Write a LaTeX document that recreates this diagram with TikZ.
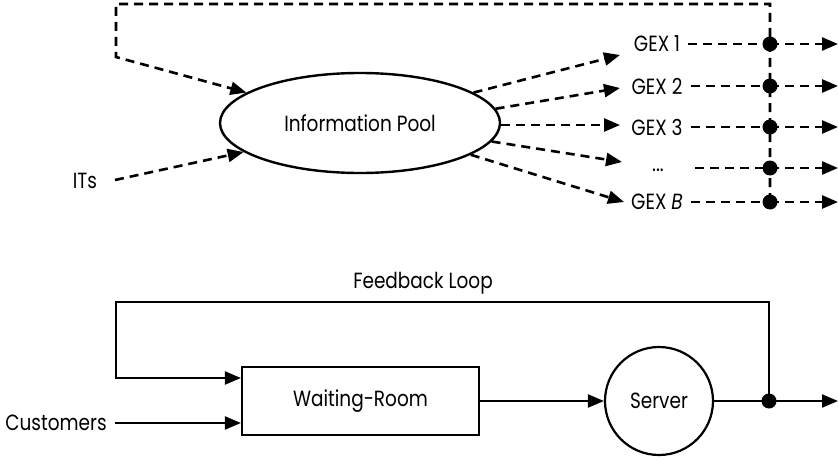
\documentclass[tikz,border=0pt]{standalone}
\usepackage{fontspec}
\setmainfont[FakeStretch=0.84]{Poppins}
\usetikzlibrary{arrows.meta,shapes.geometric}
\begin{document}
\begin{tikzpicture}[x=1pt,y=-1pt,
  lbl/.style={font=\fontsize{22}{26}\selectfont, inner sep=0pt},
  dsh/.style={line width=2.6pt, dash pattern=on 9pt off 6pt},
  sol/.style={line width=2.2pt},
  tip/.style={-{Triangle[length=16pt,width=13pt]}},
  dotn/.style={circle, fill, inner sep=0pt, minimum size=15pt}]
\useasboundingbox (0,0) rectangle (838,460);
% ---------- top part ----------
\node[ellipse, draw, line width=2.4pt, minimum width=280pt, minimum height=100pt, inner sep=0pt, lbl] (pool) at (360,123) {Information Pool};
\node[lbl] (its) at (85,181) {ITs};
\node[lbl] (g1) at (657,44) {GEX 1};
\node[lbl] (g2) at (657,86) {GEX 2};
\node[lbl] (g3) at (657,127) {GEX 3};
\node[lbl] (g4) at (658,170) {...};
\node[lbl] (g5) at (657,202) {GEX \textit{B}};
\coordinate (is) at (115,180);
\coordinate (t1) at (620,55);
\coordinate (t2) at (620,88);
\coordinate (t3) at (620,125);
\coordinate (t4) at (622,162);
\coordinate (t5) at (624,202);
\coordinate (s4) at (695,168);
\foreach \i/\y in {1/44,2/86,3/127,4/168,5/202} {
  \coordinate (j\i) at (770,\y);
  \coordinate (e\i) at (838,\y);
}
\coordinate (tr) at (770,4);
\coordinate (tl) at (116,4);
\coordinate (lb) at (116,57);
\draw[dsh,tip] (pool.15) -- (t1);
\draw[dsh,tip] (pool.6) -- (t2);
\draw[dsh,tip] (pool.east |- t3) -- (t3);
\draw[dsh,tip] (pool.352) -- (t4);
\draw[dsh,tip] (pool.344) -- (t5);
\draw[dsh,tip] (is) -- (pool.194);
\draw[dsh,tip] (j5) -- (tr) -- (tl) -- (lb) -- (pool.165);
\draw[dsh] ([xshift=8pt]g1.east) -- (j1);
\draw[dsh] ([xshift=8pt]g2.east) -- (j2);
\draw[dsh] ([xshift=8pt]g3.east) -- (j3);
\draw[dsh] (s4) -- (j4);
\draw[dsh] ([xshift=8pt]g5.east) -- (j5);
\foreach \i in {1,...,5} {
  \draw[dsh,tip] (j\i) -- (e\i);
  \node[dotn] (d\i) at (j\i) {};
}
% ---------- bottom part ----------
\node[lbl] (fbl) at (423,283) {Feedback Loop};
\node[draw, sol, minimum width=237pt, minimum height=68pt, inner sep=0pt, lbl] (box) at (360.5,401) {Waiting-Room};
\node[circle, draw, sol, minimum size=108pt, inner sep=0pt, lbl] (server) at (659,401) {Server};
\node[lbl] (cust) at (56,423) {Customers};
\coordinate (cs) at (115,423);
\coordinate (jb) at (769,401);
\coordinate (out) at (838,401);
\coordinate (fr) at (769,302);
\coordinate (fl) at (116,302);
\coordinate (fb) at (116,378);
\draw[sol,tip] (cs) -- (cs -| box.west);
\draw[sol,tip] (box.east) -- (server.west);
\draw[sol,tip] (server.east) -- (jb) -- (out);
\draw[sol,tip] (jb) -- (fr) -- (fl) -- (fb) -- (fb -| box.west);
\node[dotn] (db) at (jb) {};
\end{tikzpicture}
\end{document}
